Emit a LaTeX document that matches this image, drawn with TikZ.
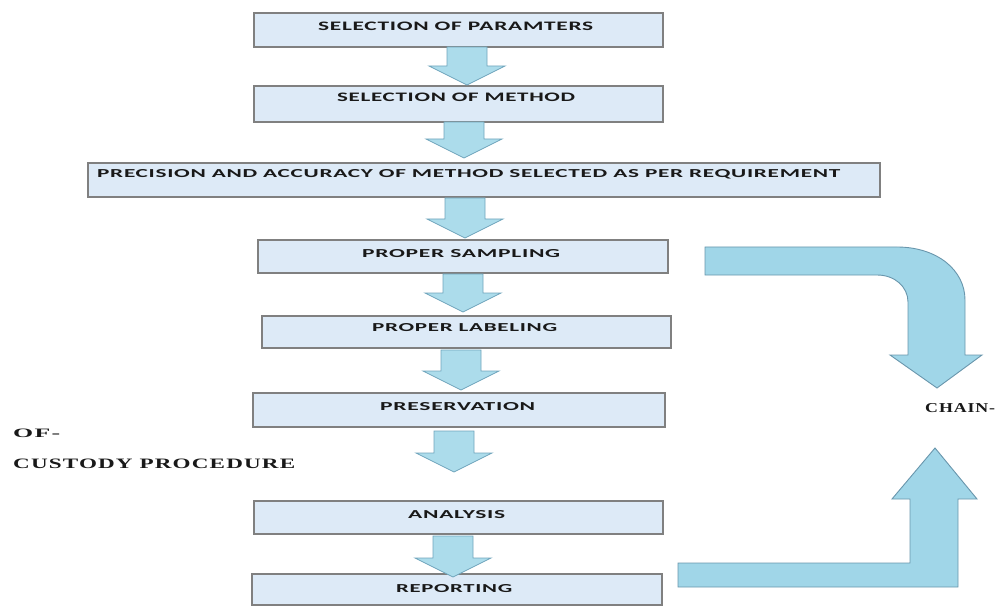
\documentclass[tikz,border=0pt]{standalone}
\usepackage{fontspec}
\usepackage{graphicx}
\usetikzlibrary{calc}
\newfontfamily\boxfont[LetterSpace=3]{Carlito}
\newfontfamily\serfont[LetterSpace=5]{Liberation Serif}
\newcommand\fitt[3]{\resizebox{#1pt}{#2pt}{#3}}
\definecolor{boxfill}{RGB}{221,234,247}
\definecolor{boxline}{RGB}{128,128,128}
\definecolor{arrfill}{RGB}{172,220,235}
\definecolor{arrline}{RGB}{112,165,188}
\definecolor{bigfill}{RGB}{160,214,232}
\definecolor{bigspot}{RGB}{135,200,222}
\definecolor{bigline}{RGB}{105,150,172}
\definecolor{txtcol}{RGB}{25,25,25}
\tikzset{
  stepbox/.style={draw=boxline, line width=1.1pt, fill=boxfill, rectangle, inner sep=0pt},
  lbl/.style={inner sep=0pt, anchor=base west, text=txtcol},
  blkarrow/.style={draw=arrline, line width=0.8pt, fill=arrfill},
  bigarrow/.style={draw=bigline, line width=0.9pt, fill=bigfill},
}
\newcommand\blk[2]{%
  \draw[blkarrow] ($(#1)+(-20,0)$) -- ($(#2)+(-20,-19)$) -- ($(#2)+(-38,-19)$) -- (#2)
    -- ($(#2)+(38,-19)$) -- ($(#2)+(20,-19)$) -- ($(#1)+(20,0)$) -- cycle;}
\begin{document}
\begin{tikzpicture}[x=1pt, y=-1pt]
\useasboundingbox (0,0) rectangle (997,607);
% boxes
\node[stepbox, minimum width=409pt, minimum height=34pt] (b1) at (458.5,30) {};
\node[stepbox, minimum width=409pt, minimum height=36pt] (b2) at (458.5,104) {};
\node[stepbox, minimum width=792pt, minimum height=34pt] (b3) at (484,180) {};
\node[stepbox, minimum width=410pt, minimum height=33pt] (b4) at (463,256.5) {};
\node[stepbox, minimum width=409pt, minimum height=32pt] (b5) at (466.5,332) {};
\node[stepbox, minimum width=412pt, minimum height=34pt] (b6) at (459,410) {};
\node[stepbox, minimum width=409pt, minimum height=33pt] (b7) at (458.5,517.5) {};
\node[stepbox, minimum width=410pt, minimum height=31pt] (b8) at (457,589.5) {};
% labels
\node[lbl] (t1) at (318,31) {\fitt{275}{8.5}{\boxfont\bfseries SELECTION OF PARAMTERS}};
\node[lbl] (t2) at (337,101.5) {\fitt{238}{8.5}{\boxfont\bfseries SELECTION OF METHOD}};
\node[lbl] (t3) at (97,177.5) {\fitt{743}{8}{\boxfont\bfseries PRECISION AND ACCURACY OF METHOD SELECTED AS PER REQUIREMENT}};
\node[lbl] (t4) at (362,257) {\fitt{198}{8}{\boxfont\bfseries PROPER SAMPLING}};
\node[lbl] (t5) at (372,331) {\fitt{185}{8}{\boxfont\bfseries PROPER LABELING}};
\node[lbl] (t6) at (380,410) {\fitt{155}{8}{\boxfont\bfseries PRESERVATION}};
\node[lbl] (t7) at (408,518) {\fitt{97}{8}{\boxfont\bfseries ANALYSIS}};
\node[lbl] (t8) at (396,592) {\fitt{116}{8}{\boxfont\bfseries REPORTING}};
% block arrows between boxes
\coordinate (a1s) at (467,47);  \coordinate (a1e) at (467,85);
\coordinate (a2s) at (464,122); \coordinate (a2e) at (464,158);
\coordinate (a3s) at (465,198); \coordinate (a3e) at (465,238);
\coordinate (a4s) at (463,274); \coordinate (a4e) at (463,312);
\coordinate (a5s) at (461,350); \coordinate (a5e) at (461,390);
\coordinate (a6s) at (454,431); \coordinate (a6e) at (454,472);
\coordinate (a7s) at (453,536); \coordinate (a7e) at (453,577);
\blk{a1s}{a1e}
\blk{a2s}{a2e}
\blk{a3s}{a3e}
\blk{a4s}{a4e}
\blk{a5s}{a5e}
\blk{a6s}{a6e}
\blk{a7s}{a7e}
% big curved arrow (top)
\draw[bigarrow] (705,247) -- (897,247) .. controls (937,247) and (965,270) .. (965,300)
  -- (965,355) -- (982,355) -- (937,388) -- (890,355) -- (908,355) -- (908,302)
  .. controls (908,287) and (895,275) .. (877,275) -- (705,275) -- cycle;
% big bent arrow (bottom)
\draw[bigarrow] (678,563) -- (910,563) -- (910,499) -- (892,499) -- (935,448)
  -- (977,499) -- (958,499) -- (958,587) -- (678,587) -- cycle;
% side texts
\node[lbl] (chain) at (925,412) {\fitt{70}{9}{\serfont\bfseries CHAIN-}};
\node[lbl] (of) at (13,437) {\fitt{47}{8.5}{\serfont\bfseries OF-}};
\node[lbl] (cust) at (13,468) {\fitt{282}{9.5}{\serfont\bfseries CUSTODY PROCEDURE}};
\end{tikzpicture}
\end{document}
